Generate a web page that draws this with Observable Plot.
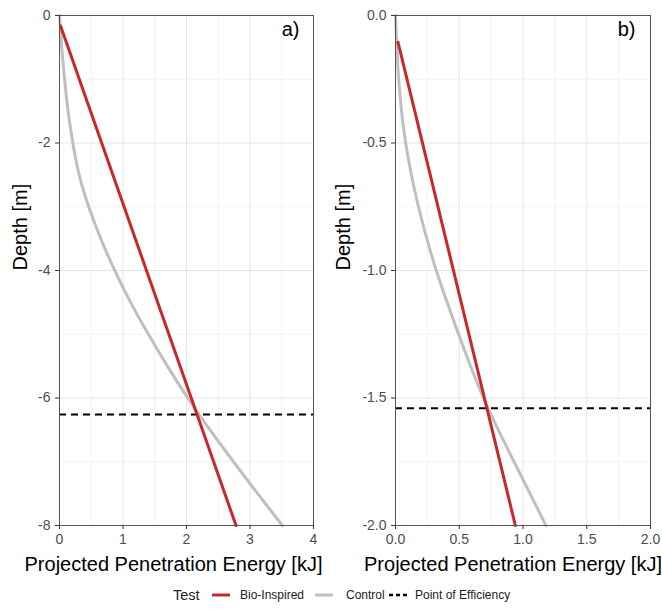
<!DOCTYPE html>
<html><head><meta charset="utf-8">
<script src="https://cdn.jsdelivr.net/npm/d3@7"></script>
<script src="https://cdn.jsdelivr.net/npm/@observablehq/plot@0.6"></script>
<style>
body{margin:0;background:#fff;font-family:"Liberation Sans",Arial,sans-serif;}
#row{display:flex;width:662px;height:575px;}
#legend{position:relative;width:662px;height:39px;}
#legend .it{position:absolute;top:0;height:39px;display:flex;align-items:center;white-space:nowrap;color:#222;}
</style></head><body>
<div id="row"></div>
<div id="legend"></div>
<script>
// ---- Panel a) data ----
const redA_energy = [0.016, 2.78];
const redA_depth  = [-0.16, -8];
const grayA_energy = [0, 0.035, 0.08, 0.135, 0.21, 0.31, 0.46, 0.65, 0.87, 1.12, 1.40, 1.70, 2.02, 2.37, 2.74, 3.12, 3.51];
const grayA_depth  = [0, -0.5, -1, -1.5, -2, -2.5, -3, -3.5, -4, -4.5, -5, -5.5, -6, -6.5, -7, -7.5, -8];
const poeA = -6.26;
const xTicksA = [0, 1, 2, 3, 4];
const xMinorA = [0.5, 1.5, 2.5, 3.5];
const yTicksA = [0, -2, -4, -6, -8];
const yMinorA = [-1, -3, -5, -7];

// ---- Panel b) data ----
const redB_energy = [0.02, 0.94];
const redB_depth  = [-0.105, -2];
const grayB_energy = [0, 0.025, 0.08, 0.18, 0.32, 0.495, 0.69, 0.93, 1.18];
const grayB_depth  = [0, -0.25, -0.5, -0.75, -1.0, -1.25, -1.5, -1.75, -2.0];
const poeB = -1.54;
const xTicksB = [0, 0.5, 1.0, 1.5, 2.0];
const xMinorB = [0.25, 0.75, 1.25, 1.75];
const yTicksB = [0, -0.5, -1.0, -1.5, -2.0];
const yMinorB = [-0.25, -0.75, -1.25, -1.75];

// ---- Labels ----
const xTitle = "Projected Penetration Energy [kJ]";
const yTitle = "Depth [m]";
const seriesNames = ["Bio-Inspired", "Control", "Point of Efficiency"];
const legendTitle = "Test";

const RED = "#c8282a", GRAY = "#bfbfbf";
const toRows = (e, d) => e.map((v, i) => ({e: v, d: d[i]}));

function panel(o) {
  return Plot.plot({
    width: 331, height: 575,
    marginLeft: o.ml, marginRight: o.mr, marginTop: 15, marginBottom: 50,
    style: {fontFamily: "'Liberation Sans', Arial, sans-serif", background: "white", overflow: "visible"},
    x: {domain: o.xDomain},
    y: {domain: o.yDomain},
    marks: [
      Plot.gridX(o.xMinor, {stroke: "#f3f3f3", strokeOpacity: 1}),
      Plot.gridY(o.yMinor, {stroke: "#f3f3f3", strokeOpacity: 1}),
      Plot.gridX(o.xTicks, {stroke: "#e6e6e6", strokeOpacity: 1}),
      Plot.gridY(o.yTicks, {stroke: "#e6e6e6", strokeOpacity: 1}),
      Plot.ruleY([o.poe], {stroke: "black", strokeWidth: 2, strokeDasharray: "7,5"}),
      Plot.line(o.gray, {x: "e", y: "d", stroke: GRAY, strokeWidth: 3, curve: "natural"}),
      Plot.line(o.red, {x: "e", y: "d", stroke: RED, strokeWidth: 3}),
      Plot.frame({stroke: "#555"}),
      Plot.axisX(o.xTicks, {tickSize: 4, tickPadding: 5, fontSize: 14, color: "#4d4d4d", stroke: "#333", tickFormat: o.xFmt, label: null}),
      Plot.axisY(o.yTicks, {tickSize: 4, tickPadding: 5, fontSize: 14, color: "#4d4d4d", stroke: "#333", tickFormat: o.yFmt, label: null}),
      Plot.text([xTitle], {frameAnchor: "bottom", dy: 39, dx: o.xdx, fontSize: 20, fill: "black", lineAnchor: "middle"}),
      Plot.text([yTitle], {frameAnchor: "left", dx: o.ydx, rotate: -90, fontSize: 20, fill: "black", lineAnchor: "middle"}),
      Plot.text([o.tag], {frameAnchor: "top-right", dx: o.tdx, dy: 6.5, fontSize: 20, fill: "black", textAnchor: "end", lineAnchor: "top"})
    ]
  });
}

const row = document.getElementById("row");
row.append(panel({
  ml: 59, mr: 18, xDomain: [0, 4], yDomain: [-8, 0],
  xTicks: xTicksA, xMinor: xMinorA, yTicks: yTicksA, yMinor: yMinorA,
  xFmt: d => String(d), yFmt: d => String(d),
  red: toRows(redA_energy, redA_depth), gray: toRows(grayA_energy, grayA_depth), poe: poeA,
  xdx: -13, ydx: -39.4, tdx: -14, tag: "a)"
}));
row.append(panel({
  ml: 64, mr: 12, xDomain: [0, 2], yDomain: [-2, 0],
  xTicks: xTicksB, xMinor: xMinorB, yTicks: yTicksB, yMinor: yMinorB,
  xFmt: d => d.toFixed(1), yFmt: d => d.toFixed(1),
  red: toRows(redB_energy, redB_depth), gray: toRows(grayB_energy, grayB_depth), poe: poeB,
  xdx: -10, ydx: -52, tdx: -15, tag: "b)"
}));

// ---- Legend ----
const lg = document.getElementById("legend");
function item(left, html) {
  const d = document.createElement("div");
  d.className = "it"; d.style.left = left + "px"; d.innerHTML = html; lg.append(d);
}
const sw = (stroke, w, dash) => `<svg width="18" height="8"><line x1="0" x2="18" y1="4" y2="4" stroke="${stroke}" stroke-width="${w}" ${dash ? `stroke-dasharray="${dash}"` : ""}/></svg>`;
item(173, `<span style="font-size:14.5px">${legendTitle}</span>`);
item(212, sw(RED, 3));
item(240, `<span style="font-size:12px">${seriesNames[0]}</span>`);
item(315, sw(GRAY, 3));
item(346, `<span style="font-size:12px">${seriesNames[1]}</span>`);
item(389, sw("black", 2.5, "4,3"));
item(415, `<span style="font-size:12px">${seriesNames[2]}</span>`);
</script>
</body></html>
